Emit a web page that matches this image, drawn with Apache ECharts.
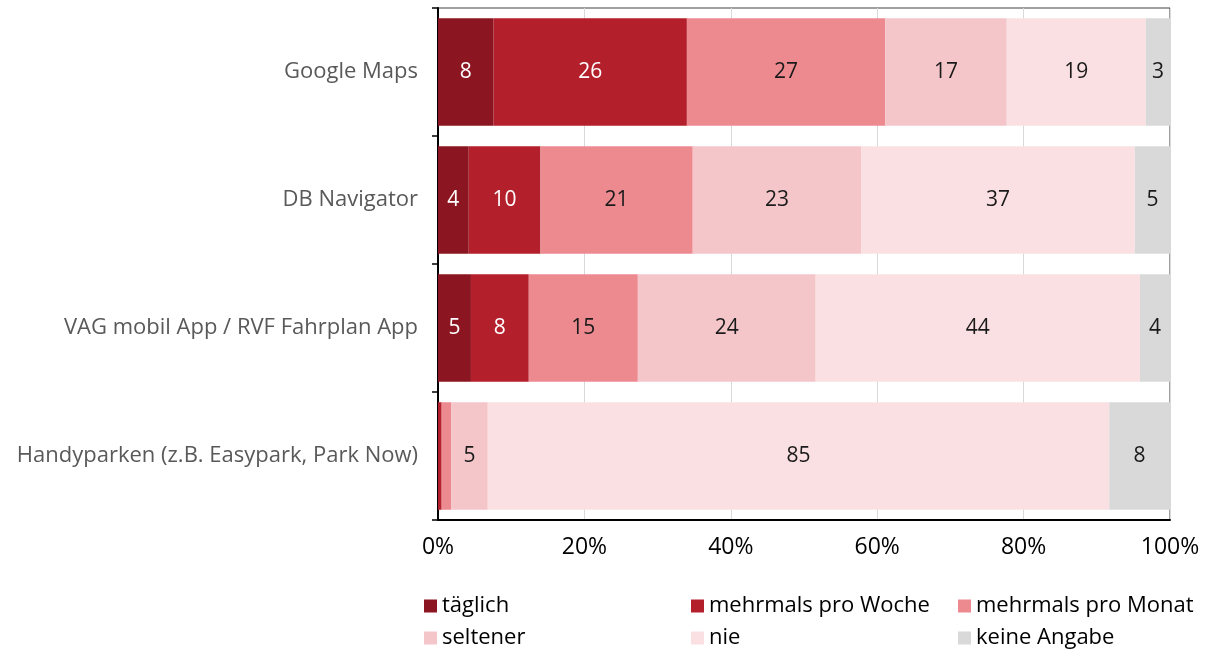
<!DOCTYPE html>
<html>
<head>
<meta charset="utf-8">
<script src="https://cdn.jsdelivr.net/npm/echarts@6/dist/echarts.min.js"></script>
<style>
  html, body { margin: 0; padding: 0; background: #fff; }
  #chart { width: 1211px; height: 653px; }
</style>
</head>
<body>
<div id="chart"></div>
<script>
let apps = ['Google Maps', 'DB Navigator', 'VAG mobil App / RVF Fahrplan App', 'Handyparken (z.B. Easypark, Park Now)'];
let names = ['täglich', 'mehrmals pro Woche', 'mehrmals pro Monat', 'seltener', 'nie', 'keine Angabe'];
let colors = ['#8B1520', '#B41F2C', '#EC8A90', '#F5C6C9', '#FAE0E2', '#D9D9D9'];
let labelColors = ['#fff', '#fff', '#1a1a1a', '#1a1a1a', '#1a1a1a', '#1a1a1a'];

// Anteile in %, je App (Reihenfolge wie apps)
let taeglich = [7.6, 4.2, 4.5, 0];
let proWoche = [26.4, 9.8, 7.9, 0.5];
let proMonat = [27.1, 20.8, 14.9, 1.3];
let seltener = [16.6, 23.0, 24.3, 5.0];
let nie = [19.0, 37.4, 44.3, 84.9];
let keineAngabe = [3.3, 4.8, 4.1, 8.3];
let xTicks = [0, 20, 40, 60, 80, 100];

let values = [taeglich, proWoche, proMonat, seltener, nie, keineAngabe];
let font = 'Open Sans';

let myChart = echarts.init(document.getElementById('chart'));
let option = {
    animation: false,
    textStyle: { fontFamily: font },
    grid: {
        left: 438, right: 41, top: 8, bottom: 133,
        show: true, borderColor: '#404040', borderWidth: 1
    },
    xAxis: {
        type: 'value',
        min: xTicks[0],
        max: xTicks[xTicks.length - 1],
        interval: 20,
        axisLine: { show: true, lineStyle: { color: '#000', width: 2 } },
        axisTick: { show: false },
        splitLine: { show: true, lineStyle: { color: '#D9D9D9', width: 1 } },
        axisLabel: {
            formatter: '{value}%',
            color: '#000',
            fontSize: 23,
            margin: 16,
            fontFamily: font
        }
    },
    yAxis: {
        type: 'category',
        data: apps,
        inverse: true,
        axisLine: { show: true, lineStyle: { color: '#000', width: 2 } },
        axisTick: { show: true, length: 6, lineStyle: { color: '#000', width: 1.5 } },
        axisLabel: {
            color: '#595959',
            fontSize: 22,
            margin: 20,
            fontFamily: font
        }
    },
    legend: {
        data: names,
        left: 424,
        top: 595,
        width: 800,
        padding: 0,
        icon: 'rect',
        itemWidth: 13,
        itemHeight: 13,
        itemGap: 10,
        textStyle: {
            color: '#000',
            fontSize: 22,
            lineHeight: 22,
            width: 239,
            overflow: 'truncate',
            fontFamily: font
        }
    },
    series: names.map((name, i) => ({
        name: name,
        type: 'bar',
        stack: 'total',
        data: values[i],
        barCategoryGap: '16%',
        itemStyle: { color: colors[i] },
        label: {
            show: true,
            position: 'inside',
            color: labelColors[i],
            fontSize: 21,
            fontFamily: font,
            formatter: p => p.value >= 2 ? Math.round(p.value) : ''
        }
    }))
};
myChart.setOption(option);
</script>
</body>
</html>
